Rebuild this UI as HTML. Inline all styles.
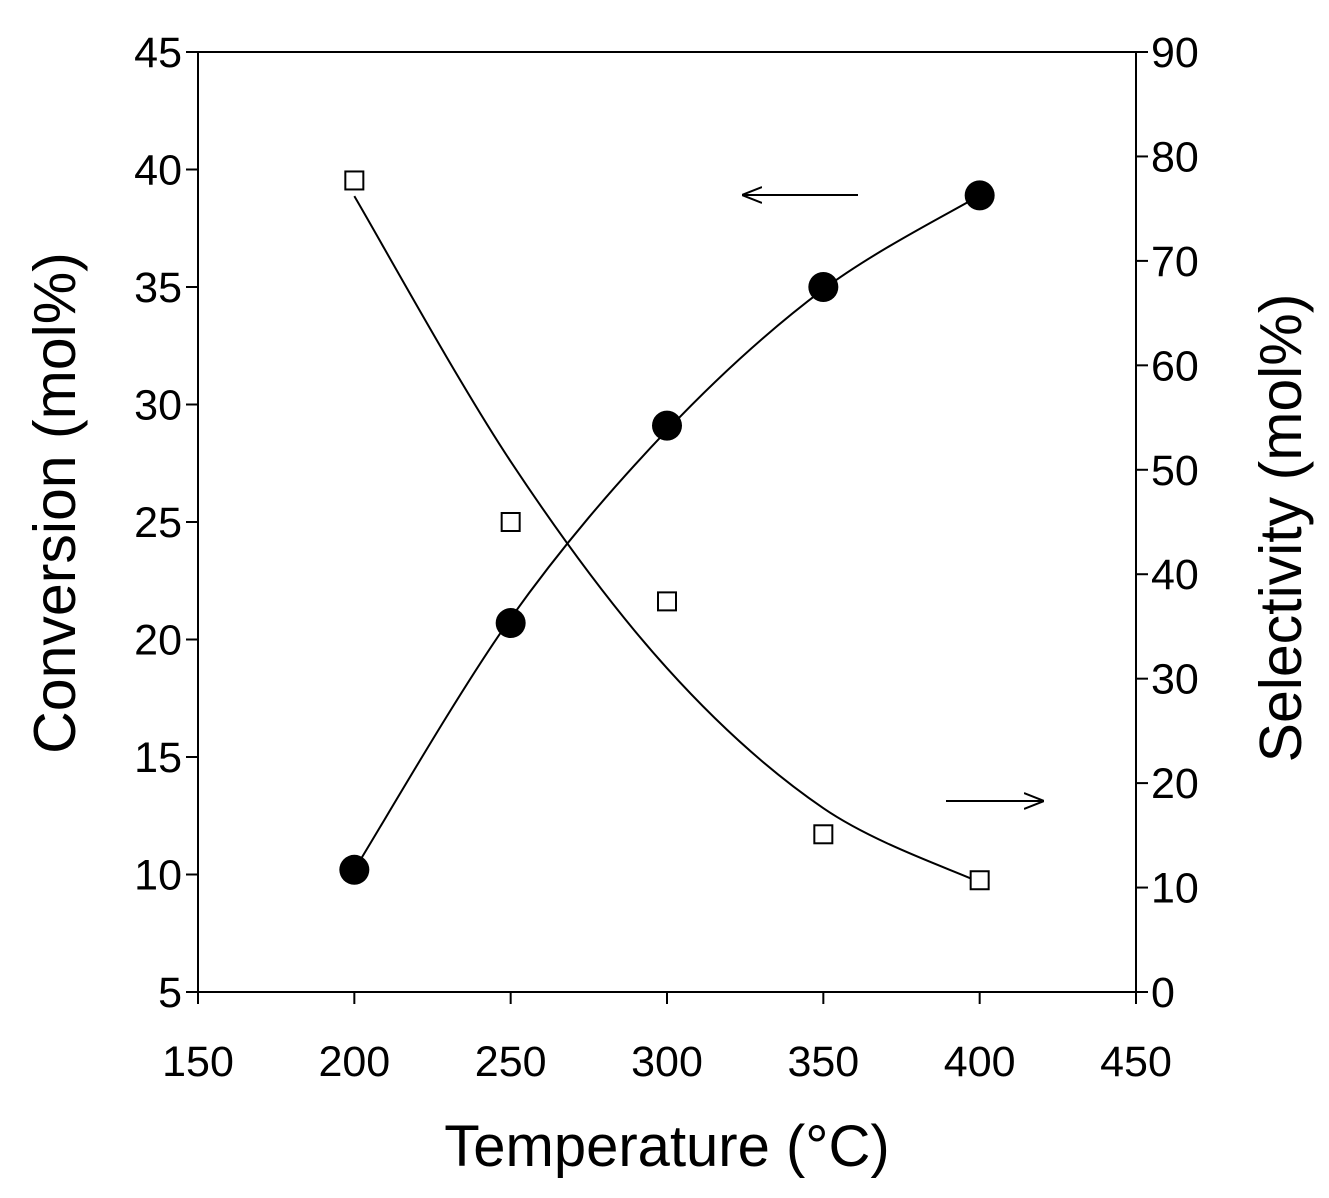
<!DOCTYPE html>
<html><head><meta charset="utf-8"><style>
body{margin:0;background:#fff}
svg{display:block}
text{font-family:"Liberation Sans",Arial,sans-serif;fill:#000}
</style></head><body>
<svg id="c" width="1329" height="1198" viewBox="0 0 1329 1198">
<defs><marker id="ah" viewBox="0 0 20 20" refX="20" refY="10" markerWidth="20" markerHeight="20" markerUnits="userSpaceOnUse" orient="auto"><path d="M0,2 L20,10 L0,18" fill="none" stroke="#000" stroke-width="2"/></marker></defs>
<g id="g"></g>
</svg>
<script>
const temps=[200,250,300,350,400];
const conversion=[10.2,20.7,29.1,35.0,38.9];
const selectivity=[77.7,45.0,37.4,15.1,10.7];
const convFit=[10.2,20.9,28.9,34.9,38.9];
const selFit=[76.2,50.8,31.0,17.6,10.5];
const xTicks=[150,200,250,300,350,400,450];
const yLTicks=[5,10,15,20,25,30,35,40,45];
const yRTicks=[0,10,20,30,40,50,60,70,80,90];
const L=198,R=1136,T=52,B=992;
const x=v=>L+(v-150)/300*(R-L);
const yl=v=>B-(v-5)/40*(B-T);
const yr=v=>B-v/90*(B-T);
const NS="http://www.w3.org/2000/svg",g=document.getElementById('g');
function el(t,a,txt){const e=document.createElementNS(NS,t);for(const k in a)e.setAttribute(k,a[k]);if(txt!==undefined)e.textContent=txt;g.appendChild(e);return e;}
let f=el('rect',{x:L,y:T,width:R-L,height:B-T,fill:'none',stroke:'#000','stroke-width':2});


xTicks.forEach(v=>{let t=el('line',{x1:x(v),x2:x(v),y1:B,y2:B+12,stroke:'#000','stroke-width':2});


let l=el('text',{x:x(v),y:1076,'font-size':43,'text-anchor':'middle'},v);

});
yLTicks.forEach(v=>{let t=el('line',{x1:L-12,x2:L,y1:yl(v),y2:yl(v),stroke:'#000','stroke-width':2});


let l=el('text',{x:182,y:yl(v)+15,'font-size':43,'text-anchor':'end'},v);

});
yRTicks.forEach(v=>{let t=el('line',{x1:R,x2:R+12,y1:yr(v),y2:yr(v),stroke:'#000','stroke-width':2});


let l=el('text',{x:1151,y:yr(v)+15,'font-size':43,'text-anchor':'start'},v);

});
let xt=el('text',{x:667,y:1166,'font-size':58,'text-anchor':'middle'},'Temperature (°C)');


let ylt=el('text',{x:0,y:0,'font-size':59,'text-anchor':'middle',transform:'translate(75,503) rotate(-90)'},'Conversion (mol%)');


let yrt=el('text',{x:0,y:0,'font-size':59,'text-anchor':'middle',transform:'translate(1301,528) rotate(-90)'},'Selectivity (mol%)');


function spline(pts){let d='M'+pts[0][0]+','+pts[0][1];for(let i=0;i<pts.length-1;i++){const p0=pts[i-1]||pts[i],p1=pts[i],p2=pts[i+1],p3=pts[i+2]||p2;
d+=' C'+(p1[0]+(p2[0]-p0[0])/6)+','+(p1[1]+(p2[1]-p0[1])/6)+' '+(p2[0]-(p3[0]-p1[0])/6)+','+(p2[1]-(p3[1]-p1[1])/6)+' '+p2[0]+','+p2[1];}return d;}
let c1=el('path',{d:spline(temps.map((t,i)=>[x(t),yl(convFit[i])])),fill:'none',stroke:'#000','stroke-width':2});


let c2=el('path',{d:spline(temps.map((t,i)=>[x(t),yr(selFit[i])])),fill:'none',stroke:'#000','stroke-width':2});


temps.forEach((t,i)=>{let c=el('circle',{cx:x(t),cy:yl(conversion[i]),r:15,fill:'#000'});


let s=el('rect',{x:x(t)-9,y:yr(selectivity[i])-9,width:18,height:18,fill:'#fff',stroke:'#000','stroke-width':2});

});
let a1=el('line',{x1:858,y1:195,x2:742,y2:195,stroke:'#000','stroke-width':2,'marker-end':'url(#ah)'});


let a2=el('line',{x1:946,y1:801,x2:1044,y2:801,stroke:'#000','stroke-width':2,'marker-end':'url(#ah)'});


</script>
</body></html>
